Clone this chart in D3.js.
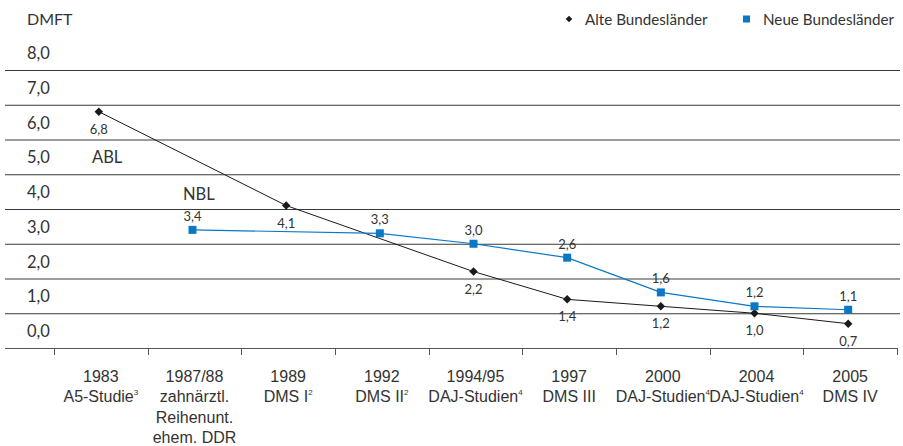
<!DOCTYPE html>
<html><head><meta charset="utf-8">
<script src="https://cdn.jsdelivr.net/npm/d3@7"></script>
<style>
body{margin:0;background:#fff;}
svg{display:block;font-family:"Lato",sans-serif;}
</style></head><body>
<svg id="c" width="903" height="446"></svg>
<script>
const categories = ["1983","1987/88","1989","1992","1994/95","1997","2000","2004","2005"];
const catLines = [
  [["A5-Studie","3"]],
  [["zahnärztl.",""],["Reihenunt.",""],["ehem. DDR",""]],
  [["DMS I","2"]],
  [["DMS II","2"]],
  [["DAJ-Studien","4"]],
  [["DMS III",""]],
  [["DAJ-Studien","4"]],
  [["DAJ-Studien","4"]],
  [["DMS IV",""]]
];
const ablValues = [6.8, null, 4.1, null, 2.2, 1.4, 1.2, 1.0, 0.7];
const nblValues = [null, 3.4, null, 3.3, 3.0, 2.6, 1.6, 1.2, 1.1];
const yTicks = [0,1,2,3,4,5,6,7,8];
const seriesNames = ["Alte Bundesländer","Neue Bundesländer"];

const svg = d3.select("#c");
const textCol = "#333";
const blue = "#0a78c5";
const x = d3.scaleBand().domain(categories).range([54, 897]);
const y = d3.scaleLinear().domain([0, 8]).range([348, 70]);
const fmt = v => d3.format(".1f")(v).replace(".", ",");

// gridlines
const gy = svg.append("g").attr("transform","translate(5,0)")
  .call(d3.axisLeft(y).tickValues(yTicks.filter(d=>d>0)).tickSize(-895).tickFormat(""));
gy.select(".domain").remove();
gy.selectAll(".tick line").attr("stroke","#3a3a3a").attr("stroke-width",1);

// y labels (above gridlines)
svg.append("g").selectAll("text").data(yTicks).join("text")
  .attr("x", 27).attr("y", d => y(d) - 11)
  .attr("fill", textCol).attr("font-size", 16.5)
  .text(d => fmt(d));
svg.append("text").attr("x",27).attr("y",25).attr("fill",textCol).attr("font-size",16).text("DMFT");

// x axis
const gx = svg.append("g").attr("transform","translate(0,348)")
  .call(d3.axisBottom(x).tickSize(0).tickPadding(0));
gx.select(".domain").remove();
gx.selectAll(".tick text").remove();
svg.append("line").attr("x1",5).attr("x2",897).attr("y1",348.5).attr("y2",348.5)
  .attr("stroke","#555").attr("stroke-width",1);
const bounds = categories.map(c => x(c)).concat([x(categories[categories.length-1]) + x.step()]);
svg.append("g").selectAll("line").data(bounds).join("line")
  .attr("x1", d => Math.round(d)+0.5).attr("x2", d => Math.round(d)+0.5)
  .attr("y1", 348).attr("y2", 355).attr("stroke","#555");

gx.selectAll(".tick").each(function(d, i){
  const t = d3.select(this).append("text").attr("fill",textCol).attr("font-size",16)
    .attr("text-anchor","middle").attr("y", 33.5);
  t.append("tspan").attr("x",0).text(d);
  catLines[i].forEach((ln, j) => {
    t.append("tspan").attr("x",0).attr("dy", 20.6).text(ln[0]);
    if (ln[1]) {
      t.append("tspan").attr("font-size",8).attr("dy",-7).text(ln[1]);
      t.append("tspan").attr("font-size",16).attr("dy",7).text("");
    }
  });
});

const cx = c => x(c) + x.bandwidth()/2 - 2;
const abl = categories.map((c,i)=>({c, v: ablValues[i]})).filter(d=>d.v!==null);
const nbl = categories.map((c,i)=>({c, v: nblValues[i]})).filter(d=>d.v!==null);
const line = d3.line().x(d=>cx(d.c)).y(d=>y(d.v));

svg.append("path").datum(abl).attr("d",line).attr("fill","none").attr("stroke","#1a1a1a").attr("stroke-width",1);
svg.append("path").datum(nbl).attr("d",line).attr("fill","none").attr("stroke",blue).attr("stroke-width",1.2);

const diamond = d3.symbol().type(d3.symbolSquare).size(36);
svg.append("g").selectAll("path").data(abl).join("path")
  .attr("d", diamond())
  .attr("transform", d => `translate(${cx(d.c)},${y(d.v)}) rotate(45)`)
  .attr("fill","#1a1a1a");
svg.append("g").selectAll("rect").data(nbl).join("rect")
  .attr("x", d => cx(d.c)-4).attr("y", d => y(d.v)-4).attr("width",8).attr("height",8)
  .attr("fill", blue);

svg.append("g").selectAll("text").data(abl).join("text")
  .attr("x", d=>cx(d.c)).attr("y", d=>y(d.v)+22).attr("text-anchor","middle")
  .attr("font-size",13).attr("fill",textCol).text(d=>fmt(d.v));
svg.append("g").selectAll("text").data(nbl).join("text")
  .attr("x", d=>cx(d.c)).attr("y", d=>y(d.v)-9).attr("text-anchor","middle")
  .attr("font-size",13).attr("fill",textCol).text(d=>fmt(d.v));

svg.append("text").attr("x",92).attr("y",163).attr("font-size",16.5).attr("fill",textCol).text("ABL");
svg.append("text").attr("x",183).attr("y",200).attr("font-size",16.5).attr("fill",textCol).text("NBL");

// legend
const lg = svg.append("g");
lg.append("path").attr("d", d3.symbol().type(d3.symbolSquare).size(22)())
  .attr("transform","translate(569,19) rotate(45)").attr("fill","#1a1a1a");
lg.append("text").attr("x",585).attr("y",25).attr("font-size",15.2).attr("fill",textCol).text(seriesNames[0]);
lg.append("rect").attr("x",743).attr("y",15.5).attr("width",7).attr("height",7).attr("fill",blue);
lg.append("text").attr("x",763).attr("y",25).attr("font-size",15.2).attr("fill",textCol).text(seriesNames[1]);
</script>
</body></html>
